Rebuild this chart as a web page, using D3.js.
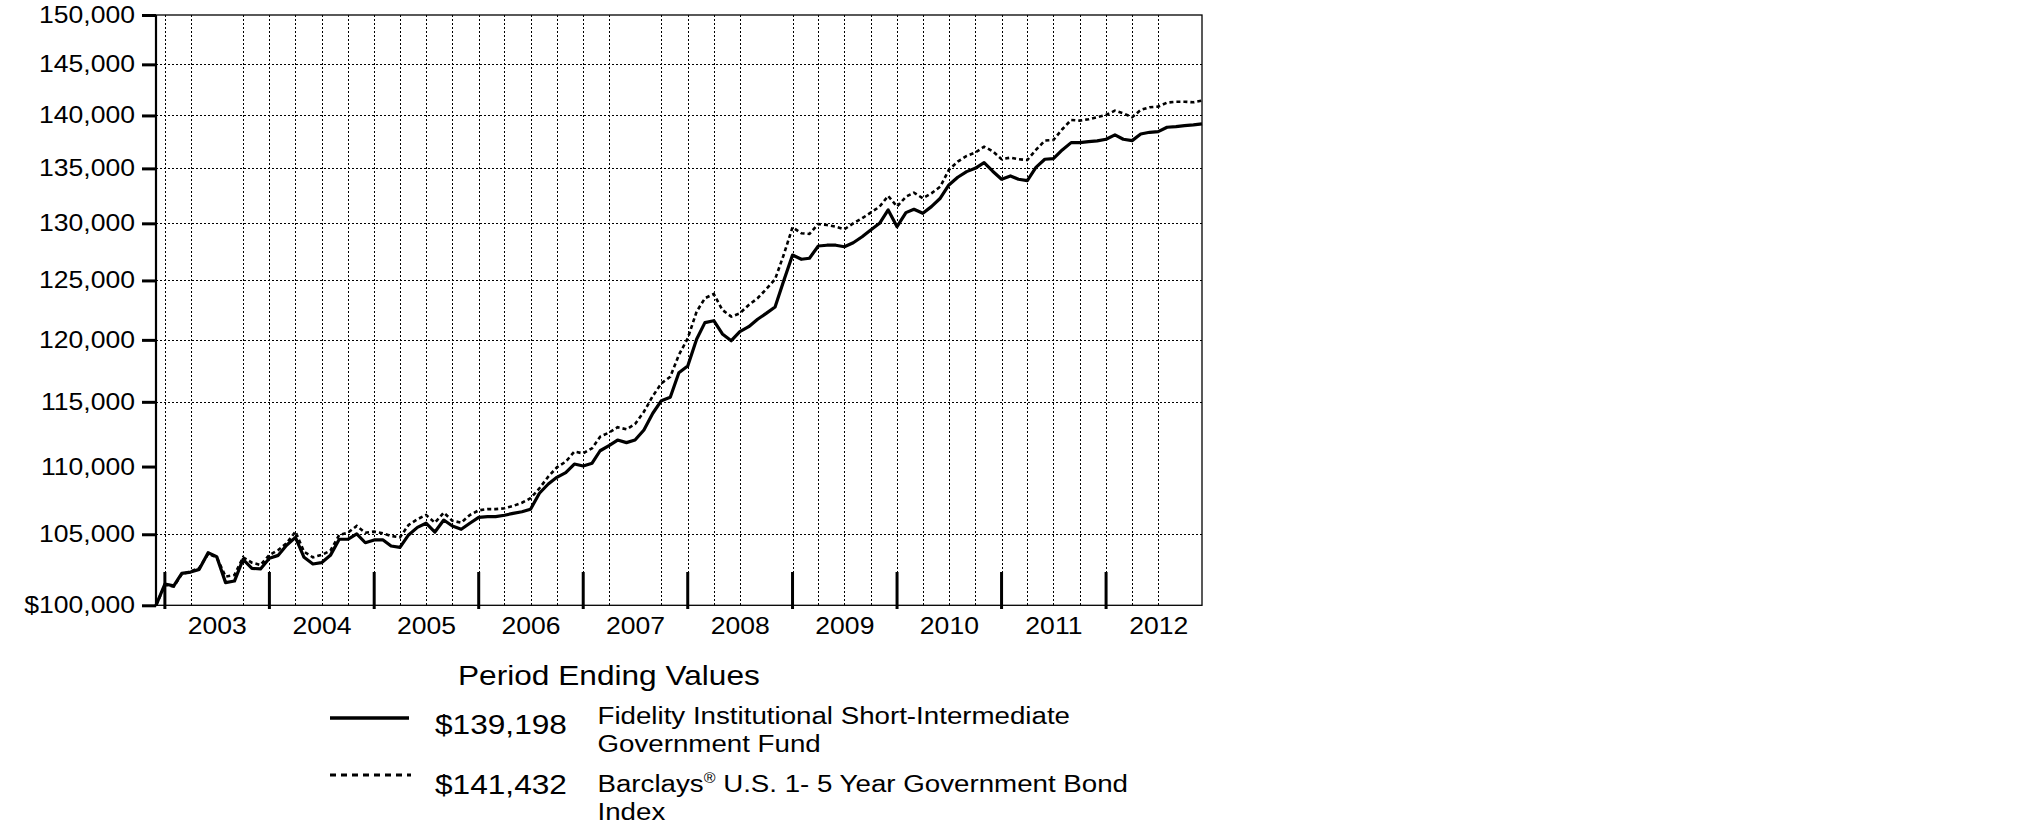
<!DOCTYPE html>
<html><head><meta charset="utf-8">
<script src="https://cdn.jsdelivr.net/npm/d3@7"></script>
<style>
body{margin:0;background:#fff}
text{font-family:"Liberation Sans",Arial,sans-serif;fill:#000}
</style>
</head><body>
<svg id="chart" width="2025" height="828"></svg>
<script>
// ---- data (month-end values, Nov 2002 .. Nov 2012) ----
const startPeriod = "2002-12-01"; // value at end of Nov 2002
const fundValues = [
100000,101470,101340,102220,102310,102500,103680,103400,101570,101680,
103210,102570,102530,103280,103490,104210,104780,103350,102880,102970,
103490,104640,104640,105020,104390,104590,104590,104160,104060,104950,
105500,105800,105160,106030,105600,105360,105800,106230,106280,106280,
106380,106520,106640,106820,108000,108690,109190,109540,110190,110040,
110250,111200,111590,112020,111820,112020,112800,114100,115090,115360,
117320,117870,120050,121430,121590,120490,119930,120680,121090,121710,
122200,122740,124950,127200,126830,126920,127990,128060,128060,127930,
128280,128810,129410,130000,131200,129700,130960,131260,130900,131500,
132260,133470,134180,134700,135010,135530,134740,134000,134300,134000,
133870,135100,135850,135900,136720,137410,137410,137500,137570,137730,
138140,137730,137600,138230,138390,138450,138870,138930,139020,139090,
139198];
const indexValues = [
100000,101400,101300,102150,102350,102600,103590,103350,101990,102100,
103350,102970,102810,103520,103870,104350,105190,103750,103350,103520,
103820,104950,105110,105600,105110,105190,105070,104880,104780,105670,
106090,106400,105840,106570,105980,105840,106400,106740,106830,106830,
106890,107060,107300,107630,108370,109240,109940,110370,111130,111000,
111390,112280,112590,113010,112850,113260,114220,115460,116470,117000,
118760,120130,122350,123480,123840,122490,121930,122210,122910,123480,
124250,125100,127200,129650,129120,129050,129940,129850,129700,129470,
130000,130450,130960,131500,132470,131500,132400,132770,132260,132710,
133320,134860,135630,136160,136470,137030,136600,135860,136000,135850,
135780,136720,137600,137660,138680,139570,139500,139630,139830,140050,
140460,140210,139830,140530,140790,140850,141240,141330,141330,141270,
141432];
const yTickValues = [100000,105000,110000,115000,120000,125000,130000,135000,140000,145000,150000];
const yGridValues = [105000,115000,120000,125000,130000,135000,140000,145000];
const yearLabels = ["2003","2004","2005","2006","2007","2008","2009","2010","2011","2012"];
const skippedGrid = ["2003-07","2007-07","2008-10","2012-10"];
const legendTitle = "Period Ending Values";
const endingValues = ["$139,198","$141,432"];
const fundName = ["Fidelity Institutional Short-Intermediate","Government Fund"];
const indexName = ["Barclays", "\u00AE", " U.S. 1- 5 Year Government Bond", "Index"];

// ---- layout ----
const L = 156, R = 1202, T = 15, B = 605.3;
const SX = 1.14;
const svg = d3.select("#chart");
const parse = d3.utcParse("%Y-%m-%d");
const start = parse(startPeriod);
const dates = fundValues.map((d,i)=>d3.utcMonth.offset(start,i));
const x = d3.scaleUtc().domain([dates[0], dates[dates.length-1]]).range([L, R]);
const y = d3.scaleLog().domain([100000,150000]).range([B, T]);
const crisp = v => Math.round(v) + 0.5;

// gridlines
const fmtYM = d3.utcFormat("%Y-%m");
const gridDates = d3.utcMonth.every(3).range(parse("2003-01-01"), dates[dates.length-1])
  .filter(d=>!skippedGrid.includes(fmtYM(d)));
svg.append("g").selectAll("line").data(gridDates).join("line")
  .attr("x1",d=>crisp(x(d))).attr("x2",d=>crisp(x(d))).attr("y1",T).attr("y2",B)
  .attr("stroke","#000").attr("stroke-width",1).attr("stroke-dasharray","2,2")
  .attr("shape-rendering","crispEdges");
svg.append("g").selectAll("line").data(yGridValues).join("line")
  .attr("x1",L).attr("x2",R).attr("y1",d=>crisp(y(d))).attr("y2",d=>crisp(y(d)))
  .attr("stroke","#000").attr("stroke-width",1).attr("stroke-dasharray","2,2")
  .attr("shape-rendering","crispEdges");

// frame
svg.append("rect").attr("x",L).attr("y",T).attr("width",R-L).attr("height",B-T)
  .attr("fill","none").attr("stroke","#000").attr("stroke-width",1.3);
svg.append("line").attr("x1",L).attr("x2",L).attr("y1",T).attr("y2",B+1)
  .attr("stroke","#000").attr("stroke-width",2.2);

// y axis
const yAxis = svg.append("g").attr("transform",`translate(${L},0)`)
  .call(d3.axisLeft(y).tickValues(yTickValues).tickSize(14)
    .tickFormat((d,i)=> (i===0?"$":"") + d3.format(",")(d)));
yAxis.select(".domain").remove();
yAxis.selectAll(".tick line").attr("stroke","#000").attr("stroke-width",3);
yAxis.selectAll(".tick text").attr("x",-21/SX).attr("transform",`scale(${SX},1)`)
  .style("font-size","23.3px").attr("font-family",null);

// year boundary ticks
const yearTicks = d3.utcYear.range(parse("2003-01-01"), dates[dates.length-1]);
svg.append("g").selectAll("line").data(yearTicks).join("line")
  .attr("x1",d=>x(d)).attr("x2",d=>x(d)).attr("y1",572).attr("y2",609)
  .attr("stroke","#000").attr("stroke-width",3);

// year labels
const labelDates = yearLabels.map(s=>parse(s+"-07-01"));
const xAxis = svg.append("g").attr("transform",`translate(0,${B})`)
  .call(d3.axisBottom(x).tickValues(labelDates).tickSize(0)
    .tickFormat((d,i)=>yearLabels[i]));
xAxis.select(".domain").remove();
xAxis.selectAll(".tick text").attr("y",28.7).attr("dy",null)
  .attr("transform",`scale(${SX},1)`).attr("x",0)
  .style("font-size","23.3px").attr("font-family",null);

// series lines
const line = d3.line().x((d,i)=>x(dates[i])).y(d=>y(d));
svg.append("path").datum(indexValues).attr("d",line).attr("fill","none")
  .attr("stroke","#000").attr("stroke-width",2.6).attr("stroke-dasharray","4,3");
svg.append("path").datum(fundValues).attr("d",line).attr("fill","none")
  .attr("stroke","#000").attr("stroke-width",3.2).attr("stroke-linejoin","round");

// legend
function txt(s,xx,yy,size,sx){
  return svg.append("text").attr("transform",`translate(${xx},${yy}) scale(${sx},1)`)
    .style("font-size",size+"px").text(s);
}
txt(legendTitle,458,685,28,1.13);
svg.append("line").attr("x1",330).attr("x2",409).attr("y1",718).attr("y2",718)
  .attr("stroke","#000").attr("stroke-width",3.3);
txt(endingValues[0],435,734,28,1.13);
txt(fundName[0],597.5,724,24.3,SX);
txt(fundName[1],597.5,752,24.3,SX);
svg.append("line").attr("x1",330).attr("x2",411).attr("y1",775).attr("y2",775)
  .attr("stroke","#000").attr("stroke-width",3).attr("stroke-dasharray","6,5");
txt(endingValues[1],435,794,28,1.13);
const bt = txt(indexName[0],597.5,792,24.3,SX);
bt.append("tspan").attr("dy",-9).style("font-size","14px").text(indexName[1]);
bt.append("tspan").attr("dy",9).text(indexName[2]);
txt(indexName[3],597.5,820,24.3,SX);
</script>
</body></html>
